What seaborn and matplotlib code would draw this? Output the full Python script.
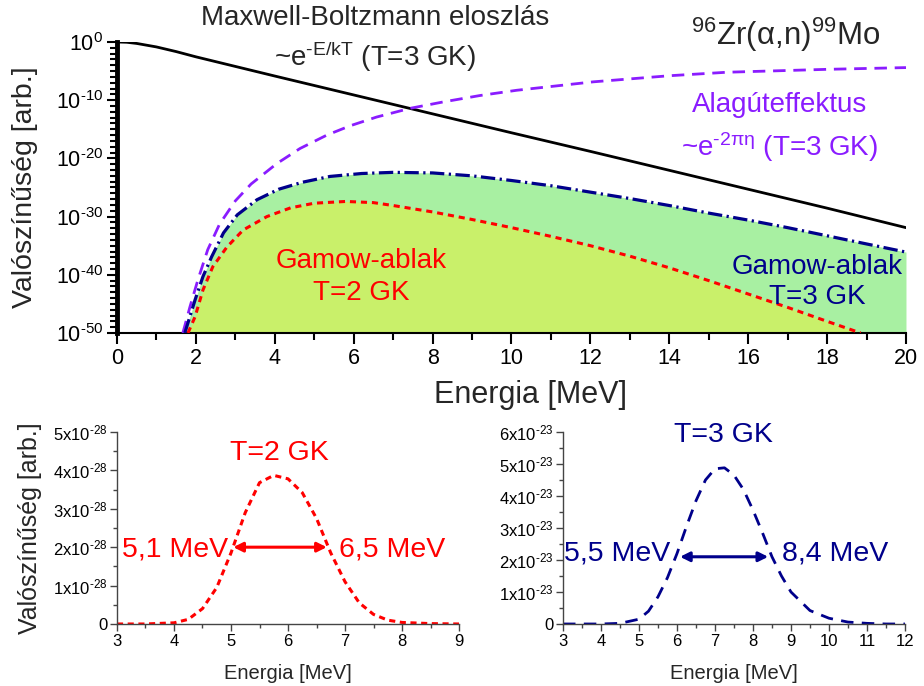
import numpy as np
import pandas as pd
import matplotlib
matplotlib.use("Agg")
import matplotlib.pyplot as plt
from matplotlib.ticker import FixedLocator, FuncFormatter, NullFormatter, MultipleLocator
import seaborn as sns

# ---------------- data ----------------
# top panel: log10 of probability
mb_E = [0, 0.25, 0.5, 1, 1.5, 2, 3, 4, 6, 8, 10, 12, 14, 16, 18, 20]
mb_log = [0, -0.05, -0.25, -0.85, -1.65, -2.55, -4.2, -5.85, -9.1, -12.35,
          -15.6, -18.8, -22.05, -25.3, -28.55, -31.9]

tun_E = [1.67, 1.85, 2.05, 2.3, 2.6, 3.0, 3.4, 4.05, 4.64, 5.32, 5.91, 6.58,
         7.43, 8.27, 9.2, 10.13, 12.07, 14, 15.46, 18, 20]
tun_log = [-50, -45.5, -40.9, -35.7, -31.3, -27.3, -24.4, -20.9, -18.3,
           -16.0, -14.4, -12.9, -11.4, -10.3, -9.2, -8.3, -6.85, -5.8, -5.2,
           -4.7, -4.4]

g3_E = [1.72, 1.98, 2.18, 2.4, 2.7, 3.05, 3.55, 4.1, 4.7, 5.4, 6.2, 7.0,
        8.0, 9.0, 10.0, 11.0, 12.0, 13.0, 14.0, 15.0, 16.0, 17.0, 18.0, 19.0, 20.0]
g3_log = [-50, -44.3, -40.3, -36.9, -32.8, -29.7, -27.1, -25.3, -24.1,
          -23.1, -22.6, -22.4, -22.5, -23.0, -23.8, -24.7, -25.8, -26.9, -28.1,
          -29.4, -30.6, -31.9, -33.3, -34.7, -36.1]

g2_E = [1.8, 1.98, 2.18, 2.43, 2.79, 3.2, 3.8, 4.4, 5.0, 5.8, 6.5, 7.0, 8.0,
        9.0, 10.0, 11.0, 12.0, 13.0, 14.0, 15.0, 16.0, 17.0, 18.0, 18.85]
g2_log = [-50, -47.2, -42.6, -38.6, -35.2, -32.3, -30.0, -28.5, -27.7,
          -27.4, -27.6, -28.1, -29.2, -30.5, -31.9, -33.4, -35.0, -36.8, -38.8,
          -41.0, -43.3, -45.6, -48.0, -50]

# bottom-left: T=2 GK Gamow peak (units of 1e-28)
bl_E = [3, 3.5, 4, 4.25, 4.5, 4.75, 5, 5.25, 5.5, 5.75, 6, 6.25, 6.5, 6.75,
        7, 7.25, 7.5, 7.75, 8, 8.5, 9]
bl_v = [0, 0, 0.03, 0.12, 0.4, 0.95, 1.85, 2.9, 3.68, 3.87, 3.78, 3.42, 2.75,
        1.85, 1.1, 0.55, 0.25, 0.1, 0.04, 0.01, 0]

# bottom-right: T=3 GK Gamow peak (units of 1e-23)
br_E = [3, 3.5, 4, 4.5, 5, 5.25, 5.5, 5.75, 6, 6.25, 6.5, 6.75, 7, 7.25, 7.5,
        7.75, 8, 8.25, 8.5, 8.75, 9, 9.5, 10, 10.5, 11, 11.5, 12]
br_v = [0, 0, 0, 0.02, 0.15, 0.4, 0.85, 1.45, 2.2, 3.05, 3.85, 4.5, 4.85,
        4.88, 4.65, 4.2, 3.56, 2.85, 2.1, 1.5, 1.0, 0.42, 0.18, 0.06, 0.02, 0, 0]

bl_arrow = (5.04, 6.68, 2.0)   # E1, E2, value (1e-28)
br_arrow = (6.08, 8.40, 2.1)   # E1, E2, value (1e-23)

# ---------------- style ----------------
sns.set_theme(style="ticks")
plt.rcParams["font.family"] = ["Liberation Sans", "DejaVu Sans"]
plt.rcParams["mathtext.fontset"] = "custom"
plt.rcParams["mathtext.rm"] = "Liberation Sans"
plt.rcParams["mathtext.it"] = "Liberation Sans:italic"
plt.rcParams["mathtext.default"] = "regular"

HY = "\u2010"  # hyphen used as minus in superscripts
RED = "#FF0000"
NAVY = "#00008B"
PURPLE = "#8A1CFF"
GREEN = "#A8F0A2"
YELLOW = "#C9F06A"

fig = plt.figure(figsize=(9.24, 6.86), dpi=100)

# ---------------- top panel ----------------
ax = fig.add_axes([0.1266, 0.5146, 0.8539, 0.4242])
ax.set_yscale("log")
ax.set_xlim(0, 20)
ax.set_ylim(1e-50, 1)

g3 = pd.DataFrame({"E": g3_E, "P": 10.0 ** np.array(g3_log)})
g2 = pd.DataFrame({"E": g2_E, "P": 10.0 ** np.array(g2_log)})
mb = pd.DataFrame({"E": mb_E, "P": 10.0 ** np.array(mb_log)})
tun = pd.DataFrame({"E": tun_E, "P": 10.0 ** np.array(tun_log)})

ax.fill_between(g3["E"], 1e-50, g3["P"], color=GREEN, lw=0, zorder=1)
ax.fill_between(g2["E"], 1e-50, g2["P"], color=YELLOW, lw=0, zorder=1.5)

sns.lineplot(data=mb, x="E", y="P", ax=ax, color="black", lw=2.0, zorder=3)
sns.lineplot(data=tun, x="E", y="P", ax=ax, color=PURPLE, lw=2.0,
             zorder=3).lines[-1].set_dashes([4.5, 2.8])
l3 = sns.lineplot(data=g3, x="E", y="P", ax=ax, color=NAVY, lw=2.3, zorder=3).lines[-1]
l3.set_dashes([4.5, 1.4, 0.7, 1.4])
l2 = sns.lineplot(data=g2, x="E", y="P", ax=ax, color=RED, lw=2.2, zorder=3).lines[-1]
l2.set_dashes([2.0, 1.6])

for s in ["top", "right"]:
    ax.spines[s].set_visible(False)
ax.spines["left"].set_linewidth(3.5)
ax.spines["bottom"].set_linewidth(1.5)
ax.spines["left"].set_color("black")
ax.spines["bottom"].set_color("black")

ax.yaxis.set_major_locator(FixedLocator(10.0 ** np.arange(-50, 1, 10)))
ax.yaxis.set_minor_locator(FixedLocator(10.0 ** np.arange(-50, 1, 1)))


def log_fmt(v, p):
    e = int(round(np.log10(v)))
    s = str(e).replace("-", HY)
    return "$10^{%s}$" % s


ax.yaxis.set_major_formatter(FuncFormatter(log_fmt))
ax.yaxis.set_minor_formatter(NullFormatter())
ax.xaxis.set_major_locator(MultipleLocator(2))
ax.xaxis.set_minor_locator(MultipleLocator(1))
ax.tick_params(axis="both", which="major", direction="out", length=7, width=1.5,
               labelsize=15.5, color="black", labelcolor="black", pad=3)
ax.tick_params(axis="both", which="minor", direction="out", length=5, width=1.5,
               color="black")
ax.tick_params(axis="x", which="major", length=8)
ax.set_xlabel("Energia [MeV]", fontsize=22)
ax.xaxis.set_label_coords((531 - 117) / 789, -(380 - 333) / 291)
ax.set_ylabel("Valószínűség [arb.]", fontsize=20.5)
ax.yaxis.set_label_coords(-(117 - 38) / 789, 0.5)

fig.text(375 / 924, 1 - 18 / 686, "Maxwell-Boltzmann eloszlás", fontsize=20,
         ha="center", va="center")
fig.text(375 / 924, 1 - 57 / 686, "~e$^{%sE/kT}$ (T=3 GK)" % HY, fontsize=20,
         ha="center", va="center")
fig.text(786 / 924, 1 - 35 / 686, "$^{96}$Zr(α,n)$^{99}$Mo", fontsize=22.5,
         ha="center", va="center")
fig.text(780 / 924, 1 - 105 / 686, "Alagúteffektus", fontsize=20,
         ha="center", va="center", color=PURPLE)
fig.text(780 / 924, 1 - 147 / 686, "~e$^{%s2πη}$ (T=3 GK)" % HY, fontsize=20,
         ha="center", va="center", color=PURPLE)
fig.text(361 / 924, 1 - 277 / 686, "Gamow-ablak\nT=2 GK", fontsize=20,
         ha="center", va="center", color=RED, linespacing=1.25)
fig.text(817 / 924, 1 - 282 / 686, "Gamow-ablak\nT=3 GK", fontsize=20,
         ha="center", va="center", color=NAVY, linespacing=1.25)


def style_small(a):
    for s in ["top", "right"]:
        a.spines[s].set_visible(False)
    for s in ["left", "bottom"]:
        a.spines[s].set_linewidth(1.0)
        a.spines[s].set_color("#444444")
    a.tick_params(axis="both", which="major", direction="out", length=5, width=1,
                  labelsize=12, color="#444444", labelcolor="black", pad=2)
    a.tick_params(axis="both", which="minor", direction="out", length=3, width=1,
                  color="#444444")
    a.set_xlabel("Energia [MeV]", fontsize=14.5, labelpad=11)


def sci_fmt(exp):
    def f(v, p):
        n = int(round(v))
        if n == 0:
            return "0"
        return "%dx10$^{%s}$" % (n, str(exp).replace("-", HY))
    return FuncFormatter(f)


# ---------------- bottom-left ----------------
a1 = fig.add_axes([0.1266, 0.0904, 0.3702, 0.2799])
bl = pd.DataFrame({"E": bl_E, "v": bl_v})
ln = sns.lineplot(data=bl, x="E", y="v", ax=a1, color=RED, lw=2.2).lines[-1]
ln.set_dashes([2.0, 1.5])
a1.set_xlim(3, 9)
a1.set_ylim(0, 5)
a1.xaxis.set_major_locator(MultipleLocator(1))
a1.xaxis.set_minor_locator(MultipleLocator(0.5))
a1.yaxis.set_major_locator(MultipleLocator(1))
a1.yaxis.set_minor_locator(MultipleLocator(0.5))
a1.yaxis.set_major_formatter(sci_fmt(-28))
style_small(a1)
a1.set_ylabel("Valószínűség [arb.]", fontsize=18)
a1.yaxis.set_label_coords(-(117 - 42) / 342, 0.5)
a1.annotate("", xy=(bl_arrow[0], bl_arrow[2]), xytext=(bl_arrow[1], bl_arrow[2]),
            arrowprops=dict(arrowstyle="<|-|>", color=RED, lw=2.2,
                            mutation_scale=14, shrinkA=0, shrinkB=0))
fig.text(279 / 924, 1 - 453 / 686, "T=2 GK", fontsize=20.5, color=RED,
         ha="center", va="center")
fig.text(175 / 924, 1 - 549 / 686, "5,1 MeV", fontsize=20.5, color=RED,
         ha="center", va="center")
fig.text(392 / 924, 1 - 549 / 686, "6,5 MeV", fontsize=20.5, color=RED,
         ha="center", va="center")

# ---------------- bottom-right ----------------
a2 = fig.add_axes([0.6093, 0.0904, 0.3701, 0.2799])
br = pd.DataFrame({"E": br_E, "v": br_v})
ln = sns.lineplot(data=br, x="E", y="v", ax=a2, color=NAVY, lw=2.0).lines[-1]
ln.set_dashes([4.5, 3.0])
a2.set_xlim(3, 12)
a2.set_ylim(0, 6)
a2.xaxis.set_major_locator(MultipleLocator(1))
a2.xaxis.set_minor_locator(MultipleLocator(0.5))
a2.yaxis.set_major_locator(MultipleLocator(1))
a2.yaxis.set_minor_locator(MultipleLocator(0.5))
a2.yaxis.set_major_formatter(sci_fmt(-23))
style_small(a2)
a2.set_ylabel("")
a2.annotate("", xy=(br_arrow[0], br_arrow[2]), xytext=(br_arrow[1], br_arrow[2]),
            arrowprops=dict(arrowstyle="<|-|>", color=NAVY, lw=2.2,
                            mutation_scale=14, shrinkA=0, shrinkB=0))
fig.text(723 / 924, 1 - 435 / 686, "T=3 GK", fontsize=20.5, color=NAVY,
         ha="center", va="center")
fig.text(617 / 924, 1 - 553 / 686, "5,5 MeV", fontsize=20.5, color=NAVY,
         ha="center", va="center")
fig.text(835 / 924, 1 - 553 / 686, "8,4 MeV", fontsize=20.5, color=NAVY,
         ha="center", va="center")

fig.savefig("out.png", dpi=100)
